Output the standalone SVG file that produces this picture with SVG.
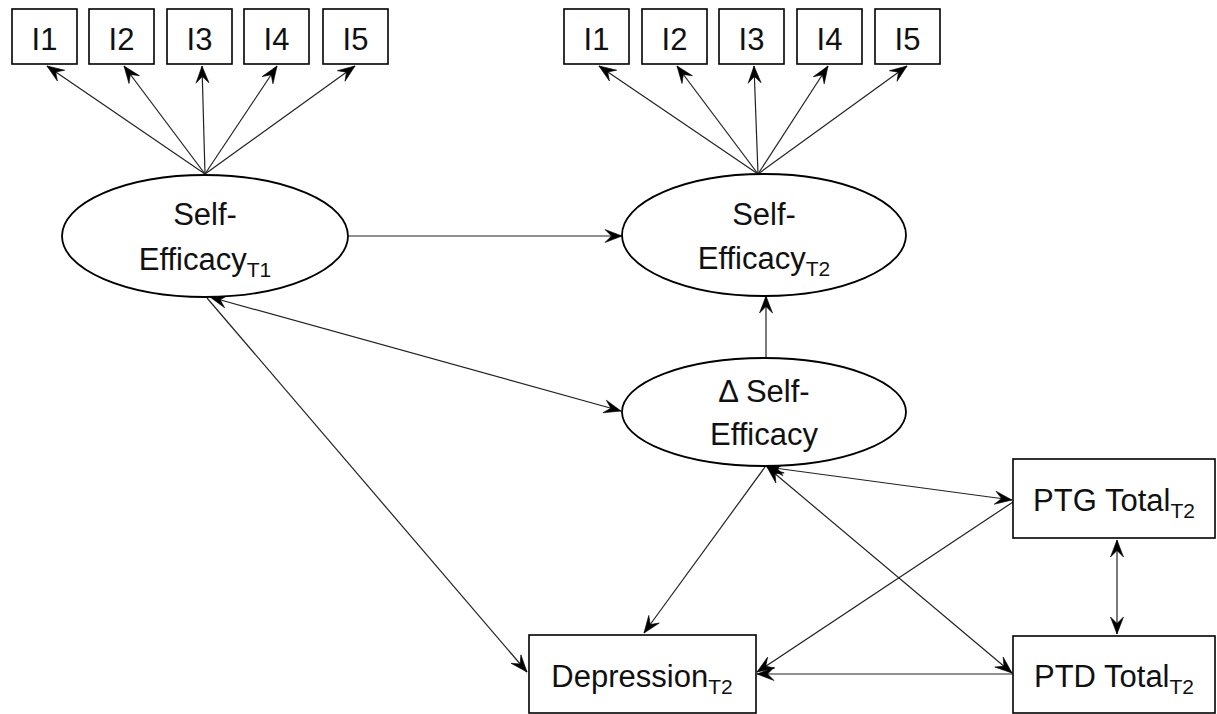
<svg xmlns="http://www.w3.org/2000/svg" width="1217" height="714" viewBox="0 0 1217 714">
<style>
  .box { fill: #fff; stroke: #000; stroke-width: 1.6; }
  .ell { fill: #fff; stroke: #000; stroke-width: 1.8; }
  .lbl { font-family: "Liberation Sans", Arial, sans-serif; font-size: 31px; fill: #111; text-anchor: middle; }
  .sub { font-size: 21px; }
  .c { stroke: #222; stroke-width: 1.2; fill: none; }
  .e { marker-end: url(#ah); }
  .b { marker-start: url(#ah); marker-end: url(#ah); }
</style>
<defs>
  <marker id="ah" viewBox="-19 -8 20 16" refX="0" refY="0" markerWidth="20" markerHeight="16" orient="auto-start-reverse" markerUnits="userSpaceOnUse">
    <path d="M0,0 L-17,-6.5 L-10.5,0 L-17,6.5 Z" fill="#000" stroke="#000" stroke-width="0.6" stroke-linejoin="miter"/>
  </marker>
</defs>
<rect width="1217" height="714" fill="#fff"/>

<g id="connectors">
  <line class="c e" x1="205" y1="174" x2="47" y2="66"/>
  <line class="c e" x1="205" y1="174" x2="124" y2="66"/>
  <line class="c e" x1="205" y1="174" x2="202" y2="66"/>
  <line class="c e" x1="205" y1="174" x2="277" y2="66"/>
  <line class="c e" x1="205" y1="174" x2="355" y2="66"/>
  <line class="c e" x1="758" y1="174" x2="599" y2="66"/>
  <line class="c e" x1="758" y1="174" x2="677" y2="66"/>
  <line class="c e" x1="758" y1="174" x2="754" y2="66"/>
  <line class="c e" x1="758" y1="174" x2="828" y2="66"/>
  <line class="c e" x1="758" y1="174" x2="907" y2="66"/>
  <line class="c e" x1="348" y1="236" x2="622" y2="236"/>
  <line class="c e" x1="766" y1="358" x2="766" y2="296"/>
  <line class="c b" x1="210" y1="297" x2="621" y2="411"/>
  <line class="c e" x1="207" y1="298" x2="527" y2="672"/>
  <line class="c e" x1="765" y1="467" x2="644" y2="633"/>
  <line class="c b" x1="767" y1="467" x2="1012" y2="500"/>
  <line class="c b" x1="767" y1="467" x2="1012" y2="673"/>
  <line class="c e" x1="1013" y1="502" x2="757" y2="672"/>
  <line class="c e" x1="1013" y1="674" x2="757" y2="674"/>
  <line class="c b" x1="1117" y1="540" x2="1117" y2="634"/>
</g>

<g id="l-I1"><rect class="box" x="12" y="9" width="65" height="55"/><text class="lbl" x="44.5" y="50">I1</text></g>
<g id="l-I2"><rect class="box" x="89" y="9" width="65" height="55"/><text class="lbl" x="121.5" y="50">I2</text></g>
<g id="l-I3"><rect class="box" x="167" y="9" width="65" height="55"/><text class="lbl" x="199.5" y="50">I3</text></g>
<g id="l-I4"><rect class="box" x="244" y="9" width="65" height="55"/><text class="lbl" x="276.5" y="50">I4</text></g>
<g id="l-I5"><rect class="box" x="323" y="9" width="65" height="55"/><text class="lbl" x="355.5" y="50">I5</text></g>

<g id="r-I1"><rect class="box" x="564" y="9" width="65" height="55"/><text class="lbl" x="596.5" y="50">I1</text></g>
<g id="r-I2"><rect class="box" x="642" y="9" width="65" height="55"/><text class="lbl" x="674.5" y="50">I2</text></g>
<g id="r-I3"><rect class="box" x="719" y="9" width="65" height="55"/><text class="lbl" x="751.5" y="50">I3</text></g>
<g id="r-I4"><rect class="box" x="797" y="9" width="65" height="55"/><text class="lbl" x="829.5" y="50">I4</text></g>
<g id="r-I5"><rect class="box" x="875" y="9" width="65" height="55"/><text class="lbl" x="907.5" y="50">I5</text></g>

<g id="se-t1">
  <ellipse class="ell" cx="205" cy="236" rx="143" ry="61"/>
  <text class="lbl" x="205" y="225">Self-</text>
  <text class="lbl" x="205" y="270">Efficacy<tspan class="sub" dy="7">T1</tspan></text>
</g>
<g id="se-t2">
  <ellipse class="ell" cx="764" cy="235" rx="142" ry="61"/>
  <text class="lbl" x="764" y="225">Self-</text>
  <text class="lbl" x="764" y="269">Efficacy<tspan class="sub" dy="7">T2</tspan></text>
</g>
<g id="delta-se">
  <ellipse class="ell" cx="764" cy="412" rx="142" ry="54"/>
  <text class="lbl" x="764" y="402">Δ Self-</text>
  <text class="lbl" x="764" y="445">Efficacy</text>
</g>

<g id="ptg">
  <rect class="box" x="1013" y="459" width="202" height="79"/>
  <text class="lbl" x="1114" y="511">PTG Total<tspan class="sub" dy="7">T2</tspan></text>
</g>
<g id="ptd">
  <rect class="box" x="1013" y="636" width="202" height="77"/>
  <text class="lbl" x="1114" y="687">PTD Total<tspan class="sub" dy="7">T2</tspan></text>
</g>
<g id="depression">
  <rect class="box" x="529" y="635" width="227" height="78"/>
  <text class="lbl" x="642" y="687">Depression<tspan class="sub" dy="7">T2</tspan></text>
</g>
</svg>
